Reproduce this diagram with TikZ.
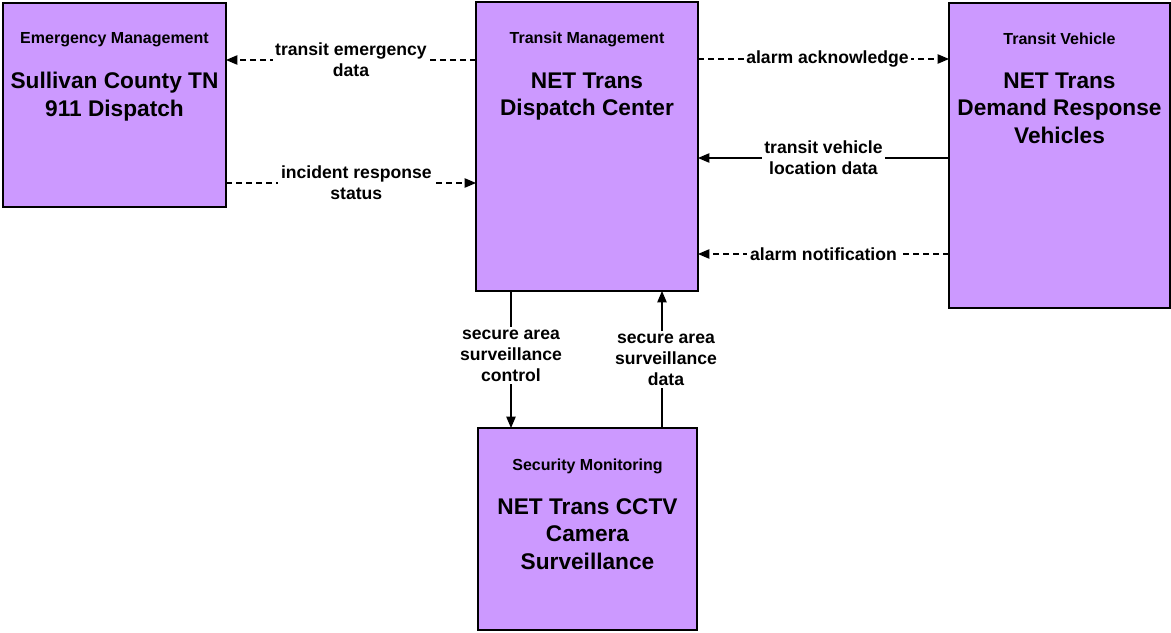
\documentclass[tikz,border=0pt]{standalone}
\usepackage{fontspec}
\setmainfont{Liberation Sans}
\usetikzlibrary{arrows.meta}
\definecolor{boxfill}{HTML}{CC99FF}
\tikzset{
  box/.style={draw=black, line width=0.9pt, fill=boxfill, inner sep=0pt, outer sep=0pt},
  ttl/.style={font=\bfseries\fontsize{12}{14}\selectfont, align=center, inner sep=0pt},
  mainlbl/.style={font=\bfseries\fontsize{17}{20.5}\selectfont, align=center, inner sep=0pt},
  flow/.style={line width=0.9pt, -{Triangle[length=8.5pt,width=7pt]}},
  dflow/.style={flow, dash pattern=on 4.5pt off 3pt},
  flbl/.style={font=\bfseries\fontsize{13.2}{15.8}\selectfont, align=center, fill=white, inner sep=2pt}
}
\begin{document}
\begin{tikzpicture}[x=0.75pt,y=-0.75pt]
\useasboundingbox (0,0) rectangle (1171,632);
% boxes
\node[box, minimum width=167.25pt, minimum height=153pt] (EM) at (114.5,105) {};
\node[box, minimum width=166.5pt, minimum height=216.75pt] (TM) at (587,146.5) {};
\node[box, minimum width=165.75pt, minimum height=228.75pt] (TV) at (1059.5,155.5) {};
\node[box, minimum width=164.25pt, minimum height=151.5pt] (SM) at (587.5,529) {};
% texts
\node[ttl] (EMt) at (114.5,40) {Emergency Management};
\node[mainlbl] (EMm) at (114.5,96.5) {Sullivan County TN\\911 Dispatch};
\node[ttl] (TMt) at (587,39) {Transit Management};
\node[mainlbl] (TMm) at (587,96.5) {NET Trans\\Dispatch Center};
\node[ttl] (TVt) at (1059.5,38.5) {Transit Vehicle};
\node[mainlbl] (TVm) at (1059.5,108) {NET Trans\\Demand Response\\Vehicles};
\node[ttl] (SMt) at (587.5,466) {Security Monitoring};
\node[mainlbl] (SMm) at (587.5,534) {NET Trans CCTV\\Camera\\Surveillance};
% levels
\coordinate (y1) at (0,60);
\coordinate (y2) at (0,183);
\coordinate (y3) at (0,59);
\coordinate (y4) at (0,158);
\coordinate (y5) at (0,254);
\coordinate (x1) at (511,0);
\coordinate (x2) at (662,0);
% connectors
\draw[dflow] (TM.west |- y1) -- node[flbl] {transit emergency\\data} (EM.east |- y1);
\draw[dflow] (EM.east |- y2) -- node[flbl, xshift=4pt] {incident response\\status} (TM.west |- y2);
\draw[dflow] (TM.east |- y3) -- node[flbl, xshift=3pt] {alarm acknowledge} (TV.west |- y3);
\draw[flow] (TV.west |- y4) -- node[flbl] {transit vehicle\\location data} (TM.east |- y4);
\draw[dflow] (TV.west |- y5) -- node[flbl] {alarm notification} (TM.east |- y5);
\draw[flow] (TM.south -| x1) -- node[flbl, yshift=3pt] {secure area\\surveillance\\control} (SM.north -| x1);
\draw[flow] (SM.north -| x2) -- node[flbl, xshift=3pt] {secure area\\surveillance\\data} (TM.south -| x2);
\end{tikzpicture}
\end{document}
